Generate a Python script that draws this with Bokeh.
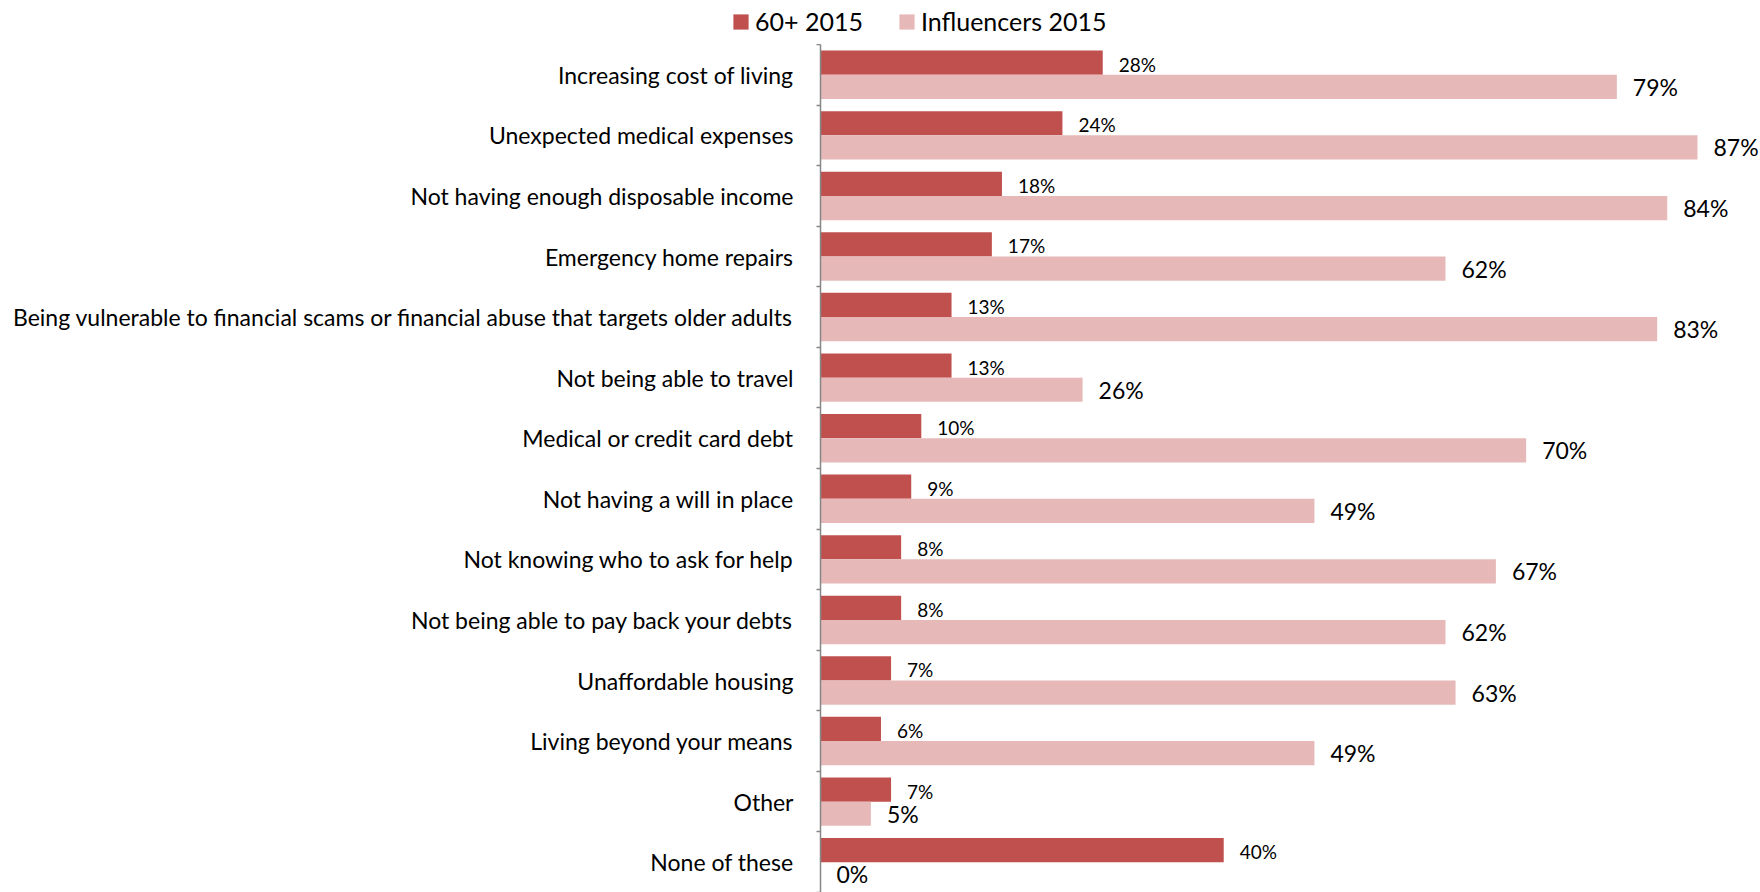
from bokeh.plotting import figure
from bokeh.layouts import column
from bokeh.models import ColumnDataSource, LabelSet, Legend, LegendItem, FixedTicker, Range1d
from bokeh.core.properties import value
from bokeh.embed import file_html
from bokeh.resources import INLINE

categories = [
    "Increasing cost of living",
    "Unexpected medical expenses",
    "Not having enough disposable income",
    "Emergency home repairs",
    "Being vulnerable to financial scams or financial abuse that targets older adults",
    "Not being able to travel",
    "Medical or credit card debt",
    "Not having a will in place",
    "Not knowing who to ask for help",
    "Not being able to pay back your debts",
    "Unaffordable housing",
    "Living beyond your means",
    "Other",
    "None of these",
]
seniors_2015 = [28, 24, 18, 17, 13, 13, 10, 9, 8, 8, 7, 6, 7, 40]
influencers_2015 = [79, 87, 84, 62, 83, 26, 70, 49, 67, 62, 63, 49, 5, 0]
series_names = ["60+ 2015", "Influencers 2015"]

DARK = "#C0504D"
LIGHT = "#E6B9B8"
AXIS = "#868686"
FONT = "Lato"

n = len(categories)
centers = [n - i - 0.5 for i in range(n)]
src = ColumnDataSource(dict(
    cat=categories,
    center=centers,
    y_dark=[c + 0.2 for c in centers],
    y_light=[c - 0.2 for c in centers],
    seniors=seniors_2015,
    infl=influencers_2015,
    lab_s=[f"{v}%" for v in seniors_2015],
    lab_i=[f"{v}%" for v in influencers_2015],
))

# ---- legend strip (top) ----
# hidden copies of the series renderers: only their legend swatches are shown
leg = figure(width=1760, height=44, x_range=Range1d(0, 93.25), y_range=Range1d(-2, -1),
             output_backend="svg", toolbar_location=None,
             x_axis_location=None, y_axis_location=None,
             min_border_left=0, min_border_right=0, min_border_top=0, min_border_bottom=0)
leg.frame_align = False
leg.outline_line_color = None
leg.xgrid.visible = False
leg.ygrid.visible = False
lr1 = leg.hbar(y="y_dark", left=0, right="seniors", height=0.4, fill_color=DARK, line_color=None, source=src)
lr2 = leg.hbar(y="y_light", left=0, right="infl", height=0.4, fill_color=LIGHT, line_color=None, source=src)
lr1.visible = False
lr2.visible = False
legend = Legend(items=[LegendItem(label=series_names[0], renderers=[lr1], index=0),
                       LegendItem(label=series_names[1], renderers=[lr2], index=0)],
                orientation="horizontal", location=(731, 8),
                glyph_width=19, glyph_height=19, label_standoff=5, spacing=34,
                padding=0, margin=0, border_line_color=None, background_fill_alpha=0,
                inactive_fill_alpha=0,
                label_text_font=FONT, label_text_font_size="25px", label_text_color="#000000")
leg.add_layout(legend, "center")

# ---- main chart ----
p = figure(width=1760, height=848, x_range=Range1d(0, 93.25), y_range=Range1d(0, n),
           output_backend="svg", toolbar_location=None, x_axis_location=None,
           min_border_left=820, min_border_right=0, min_border_top=0, min_border_bottom=0)
p.frame_align = False
p.outline_line_color = None
p.xgrid.visible = False
p.ygrid.visible = False

r1 = p.hbar(y="y_dark", left=0, right="seniors", height=0.4, fill_color=DARK, line_color=None, source=src)
r2 = p.hbar(y="y_light", left=0, right="infl", height=0.4, fill_color=LIGHT, line_color=None, source=src)

yax = p.yaxis[0]
yax.ticker = FixedTicker(ticks=centers, minor_ticks=[float(k) for k in range(n + 1)])
yax.major_label_overrides = {c: cat for c, cat in zip(centers, categories)}
yax.major_tick_line_color = None
yax.major_tick_out = 0
yax.major_tick_in = 0
yax.minor_tick_out = 4
yax.minor_tick_in = 0
yax.minor_tick_line_color = AXIS
yax.minor_tick_line_width = 1.5
yax.axis_line_color = AXIS
yax.axis_line_width = 1.5
yax.major_label_standoff = 23
yax.major_label_text_font = FONT
yax.major_label_text_font_size = "23px"
yax.major_label_text_color = "#000000"

ls = LabelSet(x="seniors", y="y_dark", text="lab_s", source=src, x_offset=16, y_offset=-9,
              text_baseline="alphabetic", text_font=value(FONT), text_font_size=value("19px"),
              text_color="#000000")
li = LabelSet(x="infl", y="y_light", text="lab_i", source=src, x_offset=16, y_offset=-9,
              text_baseline="alphabetic", text_font=value(FONT), text_font_size=value("23px"),
              text_color="#000000")
p.add_layout(ls)
p.add_layout(li)

layout = column(leg, p, spacing=0)
open("out.html", "w").write(file_html(layout, INLINE))
